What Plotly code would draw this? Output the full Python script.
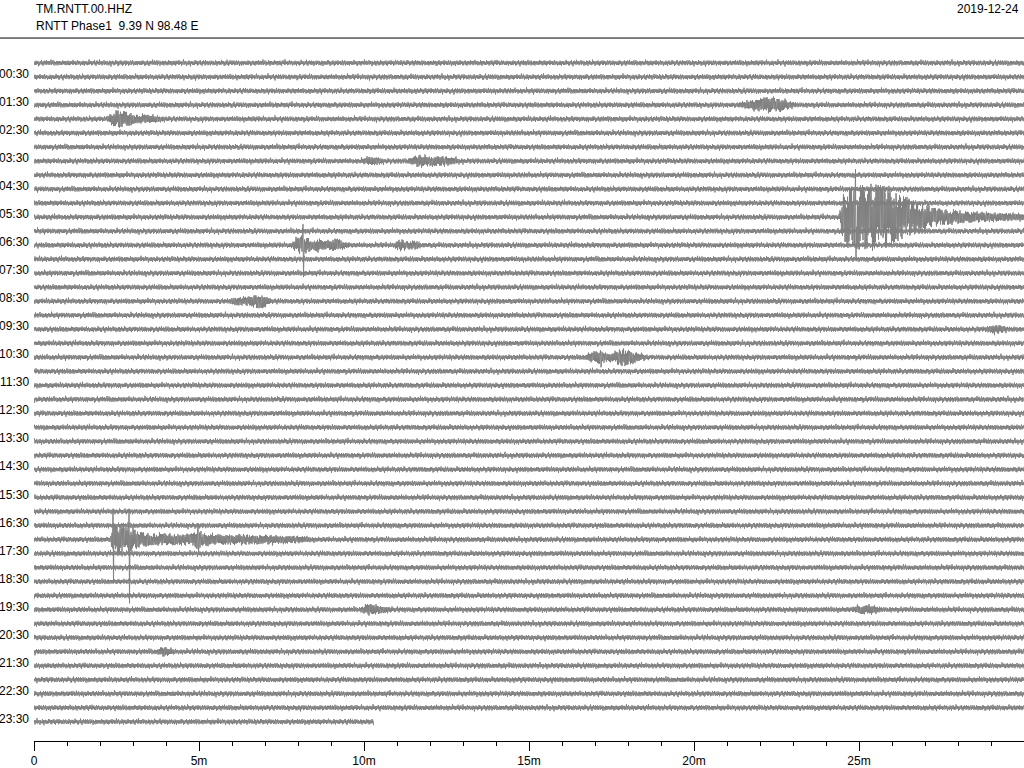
import numpy as np
import plotly.graph_objects as go

# ---------------- data ----------------
STATION = "TM.RNTT.00.HHZ"
SUBTITLE = "RNTT Phase1\u00a0\u00a09.39 N 98.48 E"
DATE = "2019-12-24"

N_LINES = 48                 # 30-minute lines, 00:00 .. 23:30
MINUTES_PER_LINE = 30
LAST_LINE_END = 10.3         # data of the last line stops here (minutes)

ROW_LABELS = ["00:30", "01:30", "02:30", "03:30", "04:30", "05:30", "06:30", "07:30",
              "08:30", "09:30", "10:30", "11:30", "12:30", "13:30", "14:30", "15:30",
              "16:30", "17:30", "18:30", "19:30", "20:30", "21:30", "22:30", "23:30"]
ROW_LABEL_LINES = [1, 3, 5, 7, 9, 11, 13, 15, 17, 19, 21, 23, 25, 27, 29, 31,
                   33, 35, 37, 39, 41, 43, 45, 47]

X_TICK_VALS = [0, 5, 10, 15, 20, 25]
X_TICK_TEXT = ["0", "5m", "10m", "15m", "20m", "25m"]

# background noise scale (pixels of a 14 px line spacing)
NOISE_PX = 2.8
LINE_SPACING_PX = 14.06

# event envelopes: line index, key times (minutes), visual half-amplitudes (px)
EVENT_LINES = [3, 4, 7, 11, 13, 17, 21, 34, 39, 39, 42, 19]
EVENT_T = [
    [21.3, 21.7, 22.0, 22.3, 22.6, 22.85, 23.1],
    [2.2, 2.4, 2.55, 2.75, 2.95, 3.1, 3.6, 4.0],
    [9.9, 10.1, 10.4, 10.6, 11.3, 11.5, 11.7, 12.0, 12.4, 12.7, 13.0],
    [24.4, 24.5, 24.7, 25.0, 25.4, 25.8, 26.2, 26.6, 27.0, 27.5, 28.0, 28.5, 29.0, 29.5, 30.0],
    [7.8, 7.9, 8.05, 8.3, 8.42, 8.6, 8.8, 9.0, 9.15, 9.4, 9.6, 10.9, 11.1, 11.3, 11.55, 11.75],
    [5.9, 6.1, 6.5, 6.75, 6.9, 7.05, 7.2],
    [16.7, 16.85, 17.1, 17.35, 17.55, 17.75, 17.95, 18.15, 18.4, 18.6],
    [2.3, 2.4, 2.6, 2.8, 3.0, 3.2, 3.6, 4.0, 4.4, 4.8, 4.95, 5.1, 5.4, 6.0, 7.0, 8.0, 8.5],
    [9.9, 10.1, 10.3, 10.6, 10.9],
    [24.8, 25.0, 25.4, 25.7],
    [3.7, 3.9, 4.1, 4.3],
    [28.8, 29.1, 29.3, 29.5],
]
EVENT_A = [
    [2, 4.5, 7, 8, 7, 4, 2],
    [2, 7, 9, 8, 6, 4.5, 4, 2],
    [2, 4, 4, 2, 2, 4.5, 6, 5, 5, 3.5, 2],
    [2, 22, 30, 32, 33, 30, 24, 17, 12, 8, 6.5, 5.5, 4.5, 4, 3.5],
    [2, 6, 9, 8, 4.5, 7, 4.5, 5, 7, 3.5, 2, 2, 6, 3.5, 4.5, 2],
    [2, 4, 4.5, 7, 8, 4.5, 2],
    [2, 5, 7, 4.5, 4.5, 8, 9, 6, 3.5, 2],
    [2, 14, 15, 12, 11, 8, 6, 6, 5.5, 6, 10, 7, 5.5, 5, 4.5, 3.5, 2],
    [2, 6, 5, 3.5, 2],
    [2, 4.5, 4.5, 2],
    [2, 5, 3.5, 2],
    [2, 4.5, 4, 2],
]

# isolated tall spikes: line, time (min), up (px), down (px)
SPIKE_LINES = [11, 13, 21, 34, 34, 34]
SPIKE_T = [24.9, 8.15, 17.17, 2.4, 2.88, 4.97]
SPIKE_UP = [48, 21, 7, 31, 31, 16]
SPIKE_DOWN = [40, 32, 10, 44, 64, 14]

# trace-drawing carriers
NOISE_SHAPE = [0.5, -0.7, 0.4, -0.6, 1.0, -0.5, 0.7, -0.3, 0.6, -0.9, 0.5, -0.8, 0.3, 0.7,
               -0.5, 0.9, -0.6, 0.4, -1.0, 0.6, -0.5, 0.8, -0.3, 0.5, -0.7, 1.0, -0.6, 0.5,
               -0.3, 0.7, -0.8, 0.5, -0.6, 0.4, 1.0, -0.7, 0.5, -0.4, 0.8, -0.3, -0.9, 0.6,
               -0.5, 0.3, -0.7, 0.8, -0.5, 0.6, -1.0, 0.5, -0.3, 0.7, -0.6]
NOISE_GAIN = [1.0, 0.9, 1.1, 1.0, 0.8, 1.2, 1.0, 0.9, 1.0, 1.3, 0.9, 1.0, 1.1, 0.8, 1.0,
              1.2, 0.9, 1.0, 1.0, 0.85, 1.1, 1.0, 0.9, 1.25, 1.0, 0.95, 1.0, 1.1, 0.9]
EVENT_SHAPE = [0.9, 0.4, 1.0, 0.6, 0.3, 1.0, 0.5, 0.85, 0.35, 1.0, 0.6, 0.75, 1.0, 0.45,
               0.9, 0.3, 1.0, 0.7, 0.95, 0.4, 0.8, 1.0, 0.55, 0.9, 0.35, 1.0, 0.7, 0.5,
               0.95, 0.4, 0.85]

LINE_COLOR = "#808080"

# ---------------- build traces ----------------
dt = MINUTES_PER_LINE / 1980.0
t = np.arange(0, MINUTES_PER_LINE + dt / 2, dt)
n = len(t)
ns = np.array(NOISE_SHAPE)
ng = np.array(NOISE_GAIN)
es = np.array(EVENT_SHAPE)

xs, ys = [], []
k = np.arange(n)
for i in range(N_LINES):
    ev = np.zeros(n)
    for ln, et, ea in zip(EVENT_LINES, EVENT_T, EVENT_A):
        if ln != i:
            continue
        m = (t >= et[0]) & (t <= et[-1])
        ev[m] = np.maximum(ev[m], np.interp(t[m], et, ea) - 2.0)
    shape = ns[(k + 13 * i) % len(ns)]
    noise = shape * ng[(k + 5 * i) % len(ng)] * NOISE_PX
    event = np.sign(shape) * ev * es[(k + 3 * i) % len(es)]
    val_px = noise + event
    for ln, st, up, dn in zip(SPIKE_LINES, SPIKE_T, SPIKE_UP, SPIKE_DOWN):
        if ln != i:
            continue
        kk = int(round(st / dt))
        val_px[kk] = up
        val_px[kk + 1] = -dn
    y = -i + val_px / LINE_SPACING_PX
    tt = t.copy()
    if i == N_LINES - 1:
        keep = tt <= LAST_LINE_END
        tt = tt[keep]
        y = y[keep]
    xs.append(tt)
    ys.append(y)
    xs.append([np.nan])
    ys.append([np.nan])

X = np.concatenate(xs)
Y = np.concatenate(ys)

fig = go.Figure()
fig.add_trace(go.Scatter(x=X, y=Y, mode="lines",
                         line=dict(color=LINE_COLOR, width=1, simplify=False),
                         hoverinfo="skip", connectgaps=False))

FONT = dict(family="Liberation Sans, Arial, sans-serif", size=12, color="black")

annotations = []
for lab, ln in zip(ROW_LABELS, ROW_LABEL_LINES):
    annotations.append(dict(x=0, xref="paper", y=-ln, yref="y", text=lab,
                            xanchor="right", yanchor="middle", xshift=-3, yshift=3,
                            showarrow=False, font=FONT))
annotations.append(dict(x=0, xref="paper", y=1.0592, yref="paper", text=STATION,
                        xanchor="left", yanchor="middle", showarrow=False, font=FONT))
annotations.append(dict(x=0, xref="paper", y=1.0346, yref="paper", text=SUBTITLE,
                        xanchor="left", yanchor="middle", showarrow=False, font=FONT))
annotations.append(dict(x=1, xref="paper", y=1.0592, yref="paper", text=DATE,
                        xanchor="right", yanchor="middle", xshift=-3, showarrow=False,
                        font=FONT))

fig.update_layout(
    width=1024, height=768,
    margin=dict(l=34, r=0, t=50, b=25),
    paper_bgcolor="white", plot_bgcolor="white",
    showlegend=False,
    font=FONT,
    annotations=annotations,
    shapes=[dict(type="line", xref="paper", yref="paper",
                 x0=-34 / 990, x1=1.0, y0=(743 - 38) / 693, y1=(743 - 38) / 693,
                 line=dict(color="black", width=1))],
    xaxis=dict(range=[0, MINUTES_PER_LINE], showgrid=False, zeroline=False,
               showline=True, linecolor="black", linewidth=1,
               ticks="outside", ticklen=9, tickcolor="black", tickwidth=1,
               tickvals=X_TICK_VALS, ticktext=X_TICK_TEXT, tickfont=FONT,
               minor=dict(ticks="outside", ticklen=4, dtick=1, tickcolor="black",
                          showgrid=False),
               fixedrange=True),
    yaxis=dict(range=[-48.37, 0.9246], showgrid=False, zeroline=False,
               showline=False, showticklabels=False, ticks="", fixedrange=True),
)

fig.write_html("out.html", config={"displayModeBar": False},
               post_script="document.body.style.margin='0';document.body.style.overflow='hidden';")
